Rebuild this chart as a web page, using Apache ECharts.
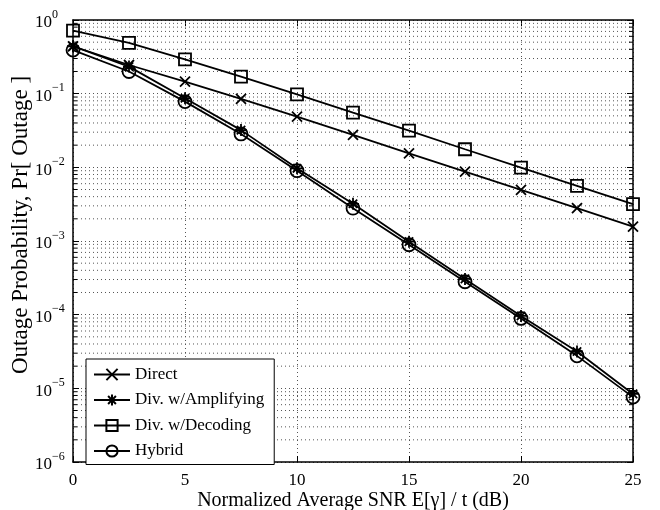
<!DOCTYPE html>
<html><head><meta charset="utf-8">
<script src="https://cdn.jsdelivr.net/npm/echarts@6/dist/echarts.min.js"></script>
<style>html,body{margin:0;padding:0;background:#fff}#c{width:660px;height:510px}</style>
</head><body><div id="c"></div>
<script>
const snr = [0, 2.5, 5, 7.5, 10, 12.5, 15, 17.5, 20, 22.5, 25];
const direct = [0.44, 0.245, 0.146, 0.085, 0.0488, 0.0275, 0.0155, 0.00875, 0.00493, 0.00279, 0.00157];
const amplifying = [0.44, 0.233, 0.0866, 0.032, 0.0097, 0.0032, 0.00098, 0.000306, 0.000096, 0.0000316, 0.0000084];
const decoding = [0.716, 0.49, 0.292, 0.17, 0.098, 0.0552, 0.0315, 0.0176, 0.0099, 0.0056, 0.00316];
const hybrid = [0.39, 0.2, 0.078, 0.0284, 0.009, 0.00279, 0.00089, 0.00028, 0.000089, 0.0000276, 0.0000076];
const seriesNames = ['Direct', 'Div. w/Amplifying', 'Div. w/Decoding', 'Hybrid'];
const minorMultipliers = [2, 3, 4, 5, 6, 7, 8, 9];
const decadeExponents = [-6, -5, -4, -3, -2, -1];
const xMin = 0, xMax = 25, xStep = 5, yMin = 1e-6, yMax = 1;

const FONT = 'Liberation Serif';
const minorVals = [];
decadeExponents.forEach(d => minorMultipliers.forEach(m => minorVals.push([xMin, m * Math.pow(10, d)])));

function pairs(arr) { return snr.map((x, i) => [x, arr[i]]); }
const markerStyle = { color: 'rgba(0,0,0,0)', borderColor: '#000', borderWidth: 1.8 };
function mkSeries(name, data, symbol, size) {
  return {
    name, type: 'line', data: pairs(data), symbol, symbolSize: size,
    lineStyle: { color: '#000', width: 1.8 }, itemStyle: markerStyle,
    emphasis: { disabled: true }, z: 3, animation: false
  };
}
const supMap = e => (e < 0 ? '\u2212' + (-e) : '' + e);
const chart = echarts.init(document.getElementById('c'));
chart.setOption({
  animation: false,
  textStyle: { fontFamily: FONT, color: '#000' },
  grid: { left: 73, right: 27, top: 20, bottom: 48, containLabel: false, outerBoundsMode: 'none' },
  legend: {
    data: seriesNames, orient: 'vertical', left: 86, top: 359,
    padding: [7, 10, 5, 7], itemGap: 8.5, itemWidth: 36, itemHeight: 14,
    backgroundColor: '#fff', borderColor: '#000', borderWidth: 1,
    textStyle: { fontFamily: FONT, fontSize: 17, color: '#000' }
  },
  xAxis: [{
    type: 'value', min: xMin, max: xMax, interval: xStep, position: 'bottom',
    name: 'Normalized Average SNR E[\u03b3] / t (dB)', nameLocation: 'middle', nameGap: 29,
    nameMoveOverlap: false,
    nameTextStyle: { fontFamily: FONT, fontSize: 20, color: '#000' },
    axisLine: { show: true, onZero: false, lineStyle: { color: '#000', width: 1.5 } },
    axisTick: { show: true, inside: true, length: 6, lineStyle: { color: '#000', width: 1 } },
    axisLabel: { fontFamily: FONT, fontSize: 17, color: '#000', margin: 10 },
    splitLine: { show: true, lineStyle: { color: '#555', width: 1, type: [1, 3] } }
  }, {
    type: 'value', min: xMin, max: xMax, interval: xStep, position: 'top',
    axisLine: { show: true, onZero: false, lineStyle: { color: '#000', width: 1.5 } },
    axisTick: { show: true, inside: true, length: 6, lineStyle: { color: '#000', width: 1 } },
    axisLabel: { show: false }, splitLine: { show: false }
  }],
  yAxis: [{
    type: 'log', logBase: 10, min: yMin, max: yMax, splitNumber: 6, position: 'left',
    name: 'Outage Probability, Pr[ Outage ]', nameLocation: 'middle', nameGap: 41, nameRotate: 90,
    nameMoveOverlap: false,
    nameTextStyle: { fontFamily: FONT, fontSize: 23, color: '#000', padding: [0, 0, 0, 32] },
    axisLine: { show: true, onZero: false, lineStyle: { color: '#000', width: 1.5 } },
    axisTick: { show: true, inside: true, length: 6, lineStyle: { color: '#000', width: 1 } },
    axisLabel: {
      align: 'left', margin: 38, color: '#000',
      formatter: v => '{b|10}{s|' + supMap(Math.round(Math.log10(v))) + '}',
      rich: {
        b: { fontFamily: FONT, fontSize: 17, color: '#000', verticalAlign: 'bottom' },
        s: { fontFamily: FONT, fontSize: 12, color: '#000', verticalAlign: 'bottom', padding: [0, 0, 11, 0] }
      }
    },
    splitLine: { show: true, lineStyle: { color: '#555', width: 1, type: [1, 3] } }
  }, {
    type: 'log', logBase: 10, min: yMin, max: yMax, splitNumber: 6, position: 'right',
    axisLine: { show: true, onZero: false, lineStyle: { color: '#000', width: 1.5 } },
    axisTick: { show: true, inside: true, length: 6, lineStyle: { color: '#000', width: 1 } },
    axisLabel: { show: false }, splitLine: { show: false }
  }],
  series: [
    {
      name: 'minor', type: 'custom', data: minorVals, z: 1, silent: true, clip: false,
      encode: { x: 0, y: 1 },
      renderItem: (params, api) => {
        const y = api.value(1);
        const a = api.coord([xMin, y]);
        const b = api.coord([xMax, y]);
        return {
          type: 'group', children: [
            { type: 'line', shape: { x1: a[0], y1: a[1], x2: b[0], y2: b[1] }, style: { stroke: '#555', lineWidth: 1, lineDash: [1, 3] } },
            { type: 'line', shape: { x1: a[0], y1: a[1], x2: a[0] + 4, y2: a[1] }, style: { stroke: '#000', lineWidth: 1 } },
            { type: 'line', shape: { x1: b[0] - 4, y1: b[1], x2: b[0], y2: b[1] }, style: { stroke: '#000', lineWidth: 1 } }
          ]
        };
      }
    },
    mkSeries(seriesNames[0], direct, 'path://M0,0L10,10M10,0L0,10', 10),
    mkSeries(seriesNames[1], amplifying, 'path://M5,0L5,10M0,5L10,5M1.5,1.5L8.5,8.5M8.5,1.5L1.5,8.5', 12),
    mkSeries(seriesNames[2], decoding, 'rect', 12),
    mkSeries(seriesNames[3], hybrid, 'circle', 13)
  ]
});
</script></body></html>
